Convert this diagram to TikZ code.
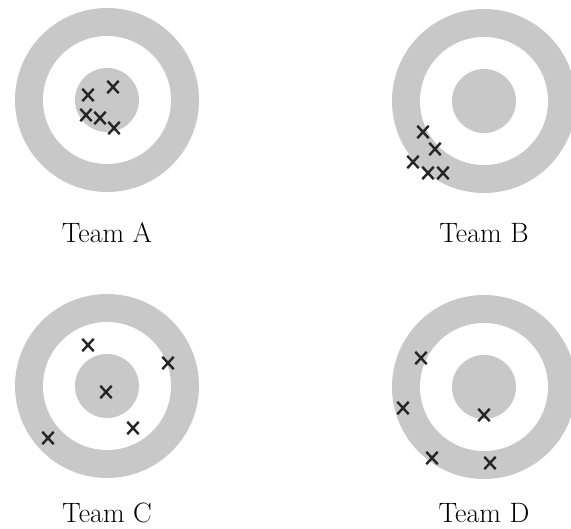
\documentclass[tikz,border=0pt]{standalone}
\usepackage{tikz}
\usetikzlibrary{positioning,shapes.misc}
\definecolor{ringgray}{RGB}{200,200,200}
\tikzset{
  outerring/.style={circle,fill=ringgray,minimum size=184pt,inner sep=0pt},
  whitering/.style={circle,fill=white,minimum size=128pt,inner sep=0pt},
  bullseye/.style={circle,fill=ringgray,minimum size=64pt,inner sep=0pt},
  hit/.style={cross out,draw=black!85,line width=2.4pt,minimum width=9pt,minimum height=10pt,inner sep=0pt},
  teamlabel/.style={inner sep=0pt,font=\fontsize{28}{32}\selectfont},
}
\begin{document}
\begin{tikzpicture}[x=1pt,y=-1pt]
\useasboundingbox (0,0) rectangle (571,529);

% Team A
\node[outerring] (tA) at (107,100) {};
\node[whitering] (wA) at (tA) {};
\node[bullseye] (bA) at (tA) {};
\node[hit] (a1) at (88,95) {};
\node[hit] (a2) at (113,87) {};
\node[hit] (a3) at (86,115) {};
\node[hit] (a4) at (100,118) {};
\node[hit] (a5) at (114,128) {};
\node[teamlabel,below=30pt of tA] (lA) {Team A};

% Team B
\node[outerring] (tB) at (484,101) {};
\node[whitering] (wB) at (tB) {};
\node[bullseye] (bB) at (tB) {};
\node[hit] (b1) at (423,132) {};
\node[hit] (b2) at (435,149) {};
\node[hit] (b3) at (413,162) {};
\node[hit] (b4) at (428,173) {};
\node[hit] (b5) at (443,173) {};
\node[teamlabel,below=30pt of tB] (lB) {Team B};

% Team C
\node[outerring] (tC) at (107,386) {};
\node[whitering] (wC) at (tC) {};
\node[bullseye] (bC) at (tC) {};
\node[hit] (c1) at (88,345) {};
\node[hit] (c2) at (168,363) {};
\node[hit] (c3) at (106,392) {};
\node[hit] (c4) at (133,428) {};
\node[hit] (c5) at (48,438) {};
\node[teamlabel,below=25pt of tC] (lC) {Team C};

% Team D
\node[outerring] (tD) at (484,387) {};
\node[whitering] (wD) at (tD) {};
\node[bullseye] (bD) at (tD) {};
\node[hit] (d1) at (421,358) {};
\node[hit] (d2) at (403,408) {};
\node[hit] (d3) at (484,415) {};
\node[hit] (d4) at (432,458) {};
\node[hit] (d5) at (490,463) {};
\node[teamlabel,below=24pt of tD] (lD) {Team D};

\end{tikzpicture}
\end{document}
